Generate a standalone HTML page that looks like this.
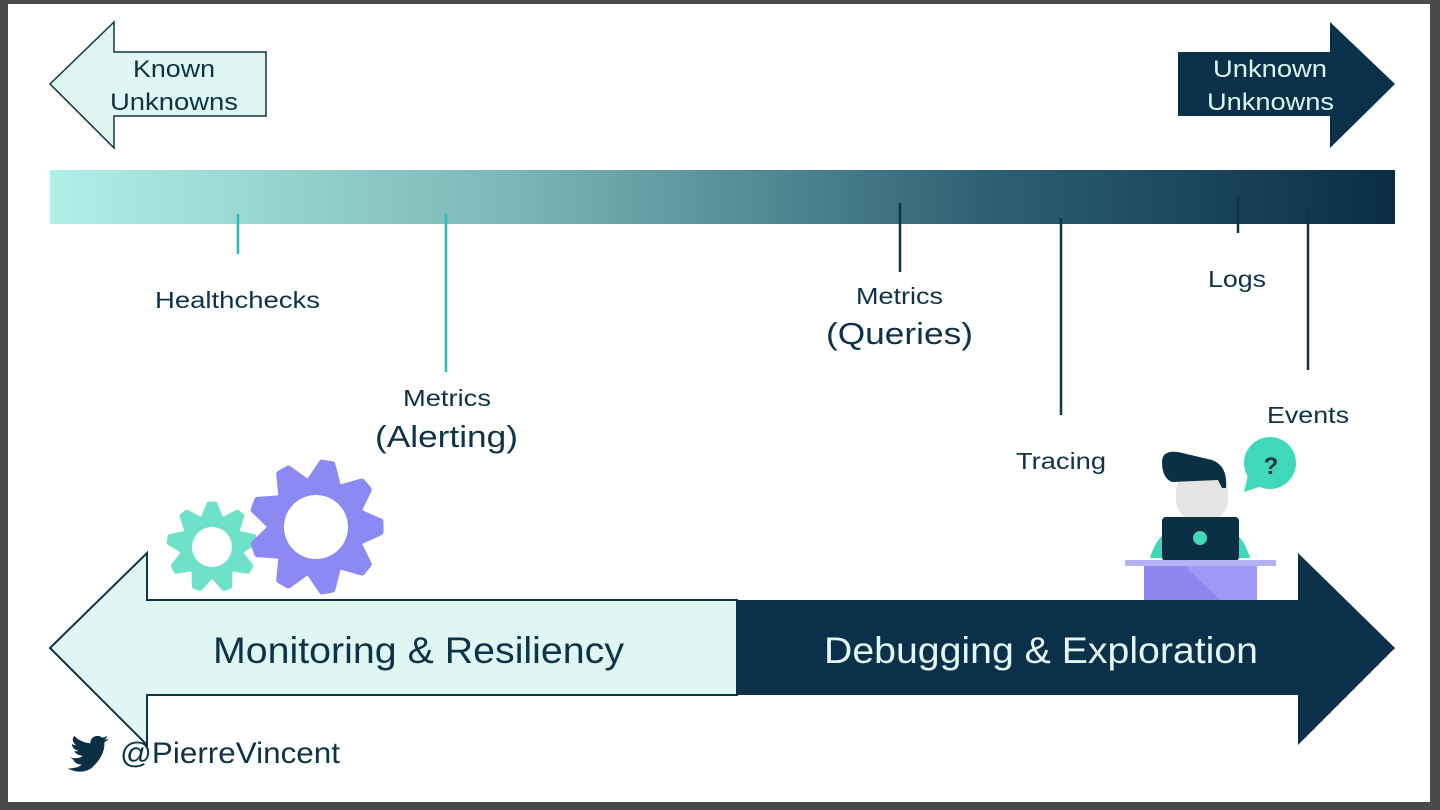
<!DOCTYPE html>
<html><head><meta charset="utf-8"><style>
html,body{margin:0;padding:0;background:#fff;}
svg{display:block;}
text{font-family:"Liberation Sans",sans-serif;fill:#0d3349;}
</style></head><body>
<svg width="1440" height="810" viewBox="0 0 1440 810" xmlns="http://www.w3.org/2000/svg">
<defs>
<linearGradient id="g" x1="0" x2="1" y1="0" y2="0">
<stop offset="0" stop-color="#b0efe8"/>
<stop offset="0.35" stop-color="#7ab6b5"/>
<stop offset="0.7" stop-color="#2d5f72"/>
<stop offset="1" stop-color="#0a2d44"/>
</linearGradient>
<polygon id="tt" points="-9,-28 -3,-43 3,-43 9,-28" />
<polygon id="tp" points="-14,-44 -5,-64 5,-64 14,-44" />
</defs>
<rect x="0" y="0" width="1440" height="810" fill="#4a4a4a"/>
<rect x="8" y="4" width="1422" height="798" fill="#ffffff"/>

<!-- top arrows -->
<polygon points="50,84 114,22 114,52 266,52 266,116 114,116 114,148" fill="#dff6f3" stroke="#0d3349" stroke-width="1.5"/>
<text x="133" y="77" font-size="24" textLength="82" lengthAdjust="spacingAndGlyphs">Known</text>
<text x="110" y="110" font-size="24" textLength="128" lengthAdjust="spacingAndGlyphs">Unknowns</text>
<polygon points="1178,52 1330,52 1330,22 1395,84 1330,148 1330,116 1178,116" fill="#0b3049"/>
<text x="1213" y="77" font-size="24" textLength="114" lengthAdjust="spacingAndGlyphs" style="fill:#d9f5f1">Unknown</text>
<text x="1207" y="110" font-size="24" textLength="127" lengthAdjust="spacingAndGlyphs" style="fill:#d9f5f1">Unknowns</text>

<!-- gradient bar -->
<rect x="50" y="170" width="1345" height="54" fill="url(#g)"/>

<!-- ticks -->
<g stroke-width="2.5">
<line x1="238" y1="214" x2="238" y2="254" stroke="#2bbdb3"/>
<line x1="446" y1="214" x2="446" y2="372" stroke="#2bbdb3"/>
<line x1="900" y1="203" x2="900" y2="272" stroke="#0d3349"/>
<line x1="1061" y1="218" x2="1061" y2="415" stroke="#0d3349"/>
<line x1="1238" y1="198" x2="1238" y2="233" stroke="#0d3349"/>
<line x1="1308" y1="212" x2="1308" y2="370" stroke="#0d3349"/>
</g>

<text x="155" y="308" font-size="23" textLength="165" lengthAdjust="spacingAndGlyphs">Healthchecks</text>
<text x="403" y="406" font-size="23" textLength="88" lengthAdjust="spacingAndGlyphs">Metrics</text>
<text x="375" y="447" font-size="31" textLength="143" lengthAdjust="spacingAndGlyphs">(Alerting)</text>
<text x="856" y="304" font-size="23" textLength="87" lengthAdjust="spacingAndGlyphs">Metrics</text>
<text x="826" y="344" font-size="31" textLength="147" lengthAdjust="spacingAndGlyphs">(Queries)</text>
<text x="1208" y="287" font-size="23" textLength="58" lengthAdjust="spacingAndGlyphs">Logs</text>
<text x="1267" y="423" font-size="23" textLength="82" lengthAdjust="spacingAndGlyphs">Events</text>
<text x="1016" y="469" font-size="23" textLength="90" lengthAdjust="spacingAndGlyphs">Tracing</text>

<!-- gears -->
<g transform="translate(212,547)" fill="#6ee2c9" stroke="#6ee2c9" stroke-width="5" stroke-linejoin="round">
<circle r="30"/>
<use href="#tt"/><use href="#tt" transform="rotate(40)"/><use href="#tt" transform="rotate(80)"/><use href="#tt" transform="rotate(120)"/><use href="#tt" transform="rotate(160)"/><use href="#tt" transform="rotate(200)"/><use href="#tt" transform="rotate(240)"/><use href="#tt" transform="rotate(280)"/><use href="#tt" transform="rotate(320)"/>
<circle r="20" fill="#fff" stroke="none"/>
</g>
<g transform="translate(316,527) rotate(10)" fill="#8c8af2" stroke="#8c8af2" stroke-width="7" stroke-linejoin="round">
<circle r="46"/>
<use href="#tp"/><use href="#tp" transform="rotate(40)"/><use href="#tp" transform="rotate(80)"/><use href="#tp" transform="rotate(120)"/><use href="#tp" transform="rotate(160)"/><use href="#tp" transform="rotate(200)"/><use href="#tp" transform="rotate(240)"/><use href="#tp" transform="rotate(280)"/><use href="#tp" transform="rotate(320)"/>
<circle r="32" fill="#fff" stroke="none"/>
</g>

<!-- person -->
<circle cx="1270" cy="463" r="26" fill="#3fd9b9"/>
<polygon points="1248,475 1244,492 1262,486" fill="#3fd9b9"/>
<text x="1271" y="474" font-size="24" font-weight="bold" text-anchor="middle">?</text>
<path d="M1150,558 Q1160,522 1200,520 Q1240,522 1250,558 Z" fill="#3fd9b9"/>
<rect x="1176" y="468" width="52" height="55" rx="24" fill="#e4e4e4"/>
<path d="M1162,462 Q1162,450 1178,452 L1212,460 Q1228,466 1226,488 L1222,488 L1218,480 L1172,482 Q1162,478 1162,462 Z" fill="#0b2f45"/>
<rect x="1162" y="517" width="77" height="44" rx="4" fill="#0b2f45"/>
<circle cx="1200" cy="538" r="7" fill="#3fd9b9"/>
<rect x="1125" y="560" width="151" height="6" fill="#b4b2f2"/>
<rect x="1144" y="566" width="113" height="36" fill="#8c88f0"/>
<polygon points="1185,566 1257,566 1257,600 1220,600" fill="#9d9af5"/>

<!-- big arrow -->
<polygon points="737,600 1298,600 1298,553 1395,648 1298,745 1298,695 737,695" fill="#0b3049"/>
<polygon points="737,600 147,600 147,553 50,648 147,745 147,695 737,695" fill="#dff6f2" stroke="#0d3349" stroke-width="2"/>
<rect x="736" y="601" width="3" height="93" fill="#0b3049"/>
<text x="213" y="663" font-size="37" textLength="411" lengthAdjust="spacingAndGlyphs">Monitoring &amp; Resiliency</text>
<text x="824" y="663" font-size="37" textLength="434" lengthAdjust="spacingAndGlyphs" style="fill:#e4f7f4">Debugging &amp; Exploration</text>

<!-- twitter -->
<g transform="translate(68,736) scale(0.72,0.64) translate(-66,-690)">
<path d="M70,742 Q80,746 88,740 Q78,738 76,732 Q80,733 82,732 Q73,729 73,721 Q76,723 79,723 Q71,716 76,708 Q86,719 99,720 Q99,710 108,708 Q113,708 116,711 Q120,710 123,708 Q122,712 119,714 Q122,714 125,712 Q123,716 119,718 Q120,740 100,760 Q85,770 67,760 Q80,760 87,754 Q77,753 75,746 Z" fill="#0b2f45" transform="translate(0,-4) scale(0.98)"/>
</g>
<text x="120" y="763" font-size="30" textLength="220" lengthAdjust="spacingAndGlyphs">@PierreVincent</text>
</svg>
</body></html>
